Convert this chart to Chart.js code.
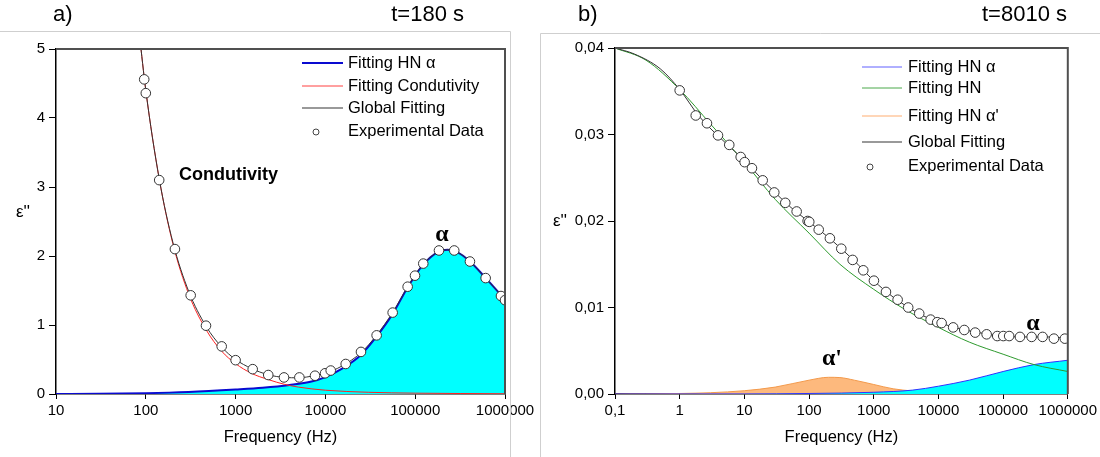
<!DOCTYPE html>
<html>
<head>
<meta charset="utf-8">
<script src="https://cdn.jsdelivr.net/npm/chart.js@4.4.1/dist/chart.umd.min.js"></script>
<style>
  body { margin: 0; background: #fff; width: 1100px; height: 457px; position: relative; overflow: hidden; }
  canvas { position: absolute; top: 0; }
  #chartA { left: 0; }
  #chartB { left: 540px; }
</style>
</head>
<body>
<canvas id="chartA" width="540" height="457"></canvas>
<canvas id="chartB" width="560" height="457"></canvas>
<script>
// ---- panel a) t=180 s ----
const ticksA = [10, 100, 1000, 10000, 100000, 1000000];

const expFreqA = [96, 100, 141, 211, 316, 468, 700, 1000, 1550, 2310, 3460, 5130, 7660, 9910, 11460, 16830, 24900, 37200, 56100, 82400, 99500, 123000, 184000, 272000, 407000, 609000, 902000, 1000000];
const expEpsA = [4.56, 4.36, 3.10, 2.10, 1.43, 0.99, 0.69, 0.49, 0.36, 0.275, 0.24, 0.24, 0.265, 0.30, 0.34, 0.435, 0.61, 0.85, 1.18, 1.555, 1.715, 1.89, 2.08, 2.08, 1.92, 1.68, 1.42, 1.36];

const globalFreqA = [85, 100, 141, 200, 300, 470, 700, 1000, 1500, 2300, 3500, 5000, 7500, 10000, 15000, 25000, 37000, 56000, 82000, 120000, 180000, 230000, 300000, 400000, 600000, 1000000];
const globalEpsA = [5.2, 4.40, 3.12, 2.20, 1.49, 0.98, 0.68, 0.50, 0.37, 0.28, 0.24, 0.235, 0.265, 0.30, 0.40, 0.60, 0.85, 1.18, 1.55, 1.87, 2.06, 2.09, 2.05, 1.93, 1.69, 1.37];

const condFreqA = [85, 100, 141, 200, 300, 470, 700, 1000, 1500, 2300, 3500, 5000, 10000, 30000, 100000, 1000000];
const condEpsA = [5.2, 4.40, 3.12, 2.18, 1.45, 0.93, 0.62, 0.44, 0.30, 0.21, 0.14, 0.10, 0.055, 0.025, 0.012, 0.004];

const alphaFreqA = [10, 30, 100, 300, 1000, 2000, 4000, 7000, 10000, 15000, 25000, 37000, 56000, 82000, 120000, 180000, 230000, 300000, 400000, 600000, 1000000];
const alphaEpsA = [0.0, 0.003, 0.012, 0.03, 0.065, 0.09, 0.13, 0.18, 0.245, 0.36, 0.57, 0.83, 1.16, 1.54, 1.86, 2.06, 2.09, 2.05, 1.93, 1.69, 1.37];

// ---- panel b) t=8010 s ----
const ticksB = [0.1, 1, 10, 100, 1000, 10000, 100000, 1000000];

const expFreqB = [1, 1.77, 2.64, 3.91, 5.84, 8.77, 10.1, 13.1, 19.2, 29, 42.9, 64.3, 95.1, 100.7, 141, 210, 315, 472, 689, 1007, 1545, 2340, 3410, 5050, 7570, 9580, 11200, 16900, 25100, 37000, 55600, 81100, 100500, 124000, 182000, 276000, 408000, 610000, 900000];
const expEpsB = [0.0351, 0.0322, 0.0313, 0.0299, 0.0288, 0.0274, 0.0268, 0.0261, 0.0247, 0.0233, 0.0221, 0.0211, 0.0200, 0.0199, 0.0190, 0.0180, 0.0168, 0.0155, 0.0143, 0.0131, 0.0118, 0.0109, 0.0100, 0.0093, 0.0086, 0.0083, 0.0082, 0.0077, 0.0074, 0.0071, 0.0069, 0.0067, 0.0067, 0.0067, 0.0066, 0.0066, 0.0066, 0.0064, 0.0064];

const globalFreqB = [0.1, 0.2, 0.5, 1, 2, 5, 10, 20, 50, 100, 200, 500, 1000, 2000, 5000, 10000, 20000, 50000, 100000, 200000, 500000, 1000000];
const globalEpsB = [0.0400, 0.0393, 0.0376, 0.0352, 0.0321, 0.0291, 0.0270, 0.0246, 0.0217, 0.0199, 0.0181, 0.0154, 0.0131, 0.0112, 0.0093, 0.0083, 0.0076, 0.0070, 0.0067, 0.0066, 0.0066, 0.0064];

const hnFreqB = [0.1, 0.3, 1, 3, 10, 30, 100, 300, 1000, 3000, 10000, 30000, 100000, 300000, 1000000];
const hnEpsB = [0.0400, 0.0386, 0.0352, 0.0312, 0.0268, 0.0225, 0.0186, 0.0150, 0.0121, 0.0098, 0.0077, 0.0060, 0.0046, 0.0034, 0.0026];

const alphaPFreqB = [0.1, 0.3, 1, 3, 10, 30, 100, 200, 300, 500, 1000, 2000, 4000, 10000, 100000, 1000000];
const alphaPEpsB = [0.0, 0.00002, 0.00006, 0.00015, 0.00038, 0.0008, 0.0016, 0.00193, 0.0019, 0.0016, 0.0011, 0.0006, 0.00035, 0.00015, 0.00003, 0.00001];

const alphaFreqB = [0.1, 10, 100, 1000, 4000, 10000, 30000, 100000, 300000, 1000000];
const alphaEpsB = [0.0, 0.00001, 0.00006, 0.0002, 0.00045, 0.0009, 0.0016, 0.0026, 0.0034, 0.0039];

const FONT = "'Liberation Sans', Arial, sans-serif";

function toPoints(xs, ys) {
  return xs.map((x, i) => ({ x: x, y: ys[i] }));
}

function fitLine(label, xs, ys, color, width, order, fillColor) {
  return {
    label: label,
    data: toPoints(xs, ys),
    borderColor: color,
    borderWidth: width,
    pointRadius: 0,
    cubicInterpolationMode: "monotone",
    fill: fillColor ? "origin" : false,
    backgroundColor: fillColor || color,
    order: order,
  };
}

function expPoints(xs, ys) {
  return {
    label: "Experimental Data",
    data: toPoints(xs, ys),
    showLine: false,
    pointRadius: 4.8,
    pointBorderWidth: 1,
    pointBorderColor: "#333",
    pointBackgroundColor: "#fff",
    order: 0,
  };
}

/**
 * draws frames, headers, annotations, y title and the legend
 */
const decoPlugin = {
  id: "deco",
  afterDraw(chart, args, o) {
    const { ctx, chartArea: a } = chart;
    ctx.save();
    // light panel frame
    ctx.strokeStyle = "#cfcfcf";
    ctx.lineWidth = 1;
    ctx.beginPath();
    o.frame.forEach((p, i) => (i ? ctx.lineTo(p[0], p[1]) : ctx.moveTo(p[0], p[1])));
    ctx.stroke();
    // plot box top and right
    ctx.strokeStyle = "#505050";
    ctx.lineWidth = 2;
    ctx.beginPath();
    ctx.moveTo(a.left, a.top);
    ctx.lineTo(a.right, a.top);
    ctx.lineTo(a.right, a.bottom);
    ctx.stroke();
    // texts
    ctx.fillStyle = "#000";
    ctx.textBaseline = "middle";
    o.texts.forEach((t) => {
      ctx.font = t.font;
      ctx.textAlign = t.align || "left";
      ctx.fillText(t.text, t.x, t.y);
    });
    // legend
    const lg = o.legend;
    ctx.font = "16.5px " + FONT;
    ctx.textAlign = "left";
    lg.items.forEach((it) => {
      if (it.marker) {
        ctx.beginPath();
        ctx.arc(lg.markerX, it.y + 1, 3, 0, Math.PI * 2);
        ctx.fillStyle = "#fff";
        ctx.fill();
        ctx.strokeStyle = "#444";
        ctx.lineWidth = 1;
        ctx.stroke();
      } else {
        ctx.strokeStyle = it.color;
        ctx.lineWidth = it.width;
        ctx.beginPath();
        ctx.moveTo(lg.x0, it.y);
        ctx.lineTo(lg.x1, it.y);
        ctx.stroke();
      }
      ctx.fillStyle = "#000";
      ctx.fillText(it.text, lg.textX, it.y);
    });
    ctx.restore();
  },
};

function makeChart(id, cfg) {
  return new Chart(document.getElementById(id), {
    type: "line",
    data: { datasets: cfg.datasets },
    plugins: [decoPlugin],
    options: {
      responsive: false,
      animation: false,
      layout: { padding: cfg.padding },
      scales: {
        x: {
          type: "logarithmic",
          min: cfg.xTicks[0],
          max: cfg.xTicks[cfg.xTicks.length - 1],
          afterBuildTicks: (s) => {
            s.ticks = cfg.xTicks.map((v) => ({ value: v }));
          },
          afterFit: (s) => {
            s.height = 63;
          },
          ticks: {
            autoSkip: false,
            maxRotation: 0,
            padding: 3,
            color: "#000",
            font: { family: FONT, size: 15 },
            callback: (v) => String(v).replace(".", ","),
          },
          grid: { drawOnChartArea: false, tickLength: 5, color: "#000" },
          border: { color: "#000", width: 1.5 },
          title: {
            display: true,
            text: "Frequency (Hz)",
            color: "#000",
            font: { family: FONT, size: 16.5 },
            padding: { top: 0, bottom: 10 },
          },
        },
        y: {
          min: 0,
          max: cfg.yMax,
          afterFit: (s) => {
            s.width = cfg.yWidth;
          },
          ticks: {
            stepSize: cfg.yStep,
            padding: 4,
            color: "#000",
            font: { family: FONT, size: 15 },
            callback: cfg.yLabel,
          },
          grid: { drawOnChartArea: false, tickLength: 7, color: "#000" },
          border: { color: "#000", width: 1.5 },
        },
      },
      plugins: {
        legend: { display: false },
        tooltip: { enabled: false },
        deco: cfg.deco,
      },
    },
  });
}

// panel a
makeChart("chartA", {
  xTicks: ticksA,
  yMax: 5,
  yStep: 1,
  yWidth: 56,
  yLabel: (v) => String(v),
  padding: { left: 0, top: 49, right: 35, bottom: 0 },
  datasets: [
    expPoints(expFreqA, expEpsA),
    fitLine("Global Fitting", globalFreqA, globalEpsA, "#333", 1, 1),
    fitLine("Fitting Condutivity", condFreqA, condEpsA, "#ff2020", 1, 2),
    fitLine("Fitting HN α", alphaFreqA, alphaEpsA, "#0a0ad0", 2, 3, "#00ffff"),
  ],
  deco: {
    frame: [[0, 31.5], [510.5, 31.5], [510.5, 457]],
    texts: [
      { text: "a)", x: 53, y: 15, font: "22px " + FONT },
      { text: "t=180 s", x: 464, y: 15, align: "right", font: "22px " + FONT },
      { text: "ε''", x: 23, y: 212, align: "center", font: "17px " + FONT },
      { text: "Condutivity", x: 179, y: 175, font: "bold 18px " + FONT },
      { text: "α", x: 442, y: 235, align: "center", font: "bold 24px 'Liberation Serif', serif" },
    ],
    legend: {
      x0: 302, x1: 343, textX: 348, markerX: 316,
      items: [
        { text: "Fitting HN α", y: 63, color: "#0a0ad0", width: 2 },
        { text: "Fitting Condutivity", y: 86, color: "#ff4040", width: 1 },
        { text: "Global Fitting", y: 108, color: "#777", width: 1.5 },
        { text: "Experimental Data", y: 131, marker: true },
      ],
    },
  },
});

// panel b
makeChart("chartB", {
  xTicks: ticksB,
  yMax: 0.04,
  yStep: 0.01,
  yWidth: 75,
  yLabel: (v) => v.toFixed(2).replace(".", ","),
  padding: { left: 0, top: 48, right: 32, bottom: 0 },
  datasets: [
    expPoints(expFreqB, expEpsB),
    fitLine("Global Fitting", globalFreqB, globalEpsB, "#333", 1, 1),
    fitLine("Fitting HN", hnFreqB, hnEpsB, "#2e9a2e", 1, 2),
    fitLine("Fitting HN α", alphaFreqB, alphaEpsB, "#3030ff", 1, 3, "#00ffff"),
    fitLine("Fitting HN α'", alphaPFreqB, alphaPEpsB, "#f39a4c", 1, 4, "#fdb97d"),
  ],
  deco: {
    frame: [[0.5, 457], [0.5, 33.5], [560, 33.5]],
    texts: [
      { text: "b)", x: 38, y: 15, font: "22px " + FONT },
      { text: "t=8010 s", x: 527, y: 15, align: "right", font: "22px " + FONT },
      { text: "ε''", x: 20, y: 221, align: "center", font: "17px " + FONT },
      { text: "α", x: 493, y: 324, align: "center", font: "bold 24px 'Liberation Serif', serif" },
      { text: "α'", x: 292, y: 359, align: "center", font: "bold 24px 'Liberation Serif', serif" },
    ],
    legend: {
      x0: 322, x1: 362, textX: 368, markerX: 330,
      items: [
        { text: "Fitting HN α", y: 67, color: "#6060ff", width: 1 },
        { text: "Fitting HN", y: 88, color: "#4aa84a", width: 1 },
        { text: "Fitting HN α'", y: 116, color: "#ffad70", width: 1 },
        { text: "Global Fitting", y: 142, color: "#777", width: 1.5 },
        { text: "Experimental Data", y: 166, marker: true },
      ],
    },
  },
});
</script>
</body>
</html>
